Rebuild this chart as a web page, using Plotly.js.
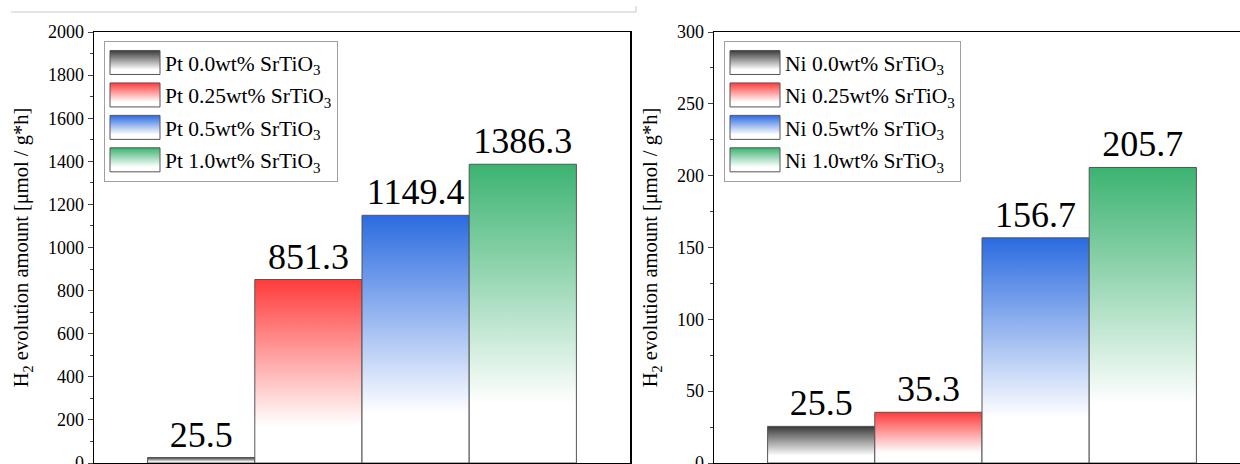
<!DOCTYPE html>
<html>
<head>
<meta charset="utf-8">
<script src="https://cdn.plot.ly/plotly-3.0.1.min.js"></script>
<style>
html,body{margin:0;padding:0;background:#fff;}
#chart{width:1240px;height:464px;}
</style>
</head>
<body>
<div id="chart"></div>
<script>
// ---- data ----
const categories = [0, 1, 2, 3];
const ptLabels = ['Pt 0.0wt% SrTiO<sub>3</sub>', 'Pt 0.25wt% SrTiO<sub>3</sub>', 'Pt 0.5wt% SrTiO<sub>3</sub>', 'Pt 1.0wt% SrTiO<sub>3</sub>'];
const ptValues = [25.5, 851.3, 1149.4, 1386.3];
const niLabels = ['Ni 0.0wt% SrTiO<sub>3</sub>', 'Ni 0.25wt% SrTiO<sub>3</sub>', 'Ni 0.5wt% SrTiO<sub>3</sub>', 'Ni 1.0wt% SrTiO<sub>3</sub>'];
const niValues = [25.5, 35.3, 156.7, 205.7];
const leftTicks = [0, 200, 400, 600, 800, 1000, 1200, 1400, 1600, 1800, 2000];
const rightTicks = [0, 50, 100, 150, 200, 250, 300];
const yTitle = 'H<sub>2</sub> evolution amount [μmol / g*h]';

// ---- style ----
const topColors = ['#3a3a3a', '#ff3b3b', '#2b6be0', '#3cb371'];
const gradIds = ['gradGray', 'gradRed', 'gradBlue', 'gradGreen'];
const FONT = 'Liberation Serif';

const W = 1240, H = 464;
const M = {l: 94, r: 0, t: 32, b: 1};
const pw = W - M.l - M.r, ph = H - M.t - M.b;
const px2x = p => (p - M.l) / pw;
const px2y = p => (H - M.b - p) / ph;

const leftDomain = [0, px2x(630)];
const rightDomain = [px2x(714), 1];
const unitPx = (630 - 94) / 5;
const rightMax = -1 + (W - 714) / unitPx;

function makeTraces(labels, values, xa, ya, lg, prefix) {
  return values.map((v, i) => ({
    type: 'bar',
    x: [categories[i]],
    y: [v],
    width: 1,
    name: labels[i],
    legend: lg,
    legendgroup: prefix + i,
    xaxis: xa, yaxis: ya,
    text: [v.toFixed(1)],
    textposition: 'outside',
    constraintext: 'none',
    textfont: {family: FONT, size: 36, color: '#000'},
    cliponaxis: false,
    marker: {color: topColors[i], line: {color: '#555', width: 1}},
    hoverinfo: 'skip'
  }));
}

const data = [].concat(
  makeTraces(ptLabels, ptValues, 'x', 'y', 'legend', 'p'),
  makeTraces(niLabels, niValues, 'x2', 'y2', 'legend2', 'n')
);

const axisLine = {showline: true, linecolor: '#000', linewidth: 1.5, showgrid: false, zeroline: false};

function yAxis(range, ticks, minorStep, mirror, anchor) {
  return Object.assign({}, axisLine, {
    domain: [0, 1], range: range, tickvals: ticks, ticks: 'outside', ticklen: 5, tickwidth: 1,
    minor: {dtick: minorStep, ticks: 'outside', ticklen: 3, tickwidth: 1}, mirror: mirror, anchor: anchor,
    ticklabeloverflow: 'allow',
    tickfont: {family: FONT, size: 18, color: '#000'},
    title: {text: yTitle, font: {family: FONT, size: 20.5, color: '#000'}, standoff: 13}
  });
}

const legendBase = {
  xanchor: 'left', yanchor: 'top',
  bgcolor: '#fff', bordercolor: '#a0a0a0', borderwidth: 1,
  font: {family: FONT, size: 21.5, color: '#000'},
  itemwidth: 50, tracegroupgap: 1.5, traceorder: 'grouped', itemclick: false, itemdoubleclick: false
};

const layout = {
  width: W, height: H,
  margin: M,
  paper_bgcolor: '#fff', plot_bgcolor: '#fff',
  barmode: 'overlay',
  showlegend: true,
  font: {family: FONT, color: '#000'},
  xaxis: Object.assign({}, axisLine, {domain: leftDomain, range: [-1, 4], mirror: true, showticklabels: false, ticks: '', anchor: 'y'}),
  yaxis: yAxis([0, 2000], leftTicks, 100, true, 'x'),
  xaxis2: Object.assign({}, axisLine, {domain: rightDomain, range: [-1, rightMax], mirror: true, showticklabels: false, ticks: '', anchor: 'y2'}),
  yaxis2: yAxis([0, 300], rightTicks, 25, false, 'x2'),
  legend: Object.assign({}, legendBase, {x: px2x(104), y: px2y(41)}),
  legend2: Object.assign({}, legendBase, {x: px2x(724), y: px2y(41)}),
  shapes: [
    {type: 'line', xref: 'paper', yref: 'paper', x0: px2x(11), x1: px2x(636), y0: px2y(12), y1: px2y(12), line: {color: '#c8c8c8', width: 1}},
    {type: 'line', xref: 'paper', yref: 'paper', x0: px2x(636), x1: px2x(636), y0: px2y(12), y1: px2y(6), line: {color: '#c8c8c8', width: 1}}
  ]
};

function hexToRgb(h) {
  const n = parseInt(h.slice(1), 16);
  return [(n >> 16) & 255, (n >> 8) & 255, n & 255];
}
const rgbKeys = topColors.map(c => hexToRgb(c).join(','));

function matchIndex(fill) {
  if (!fill) return -1;
  const m = fill.match(/\d+(\.\d+)?/g);
  if (!m) return -1;
  const key = m.slice(0, 3).map(Number).join(',');
  return rgbKeys.indexOf(key);
}

function applyGradients(gd) {
  const NS = 'http://www.w3.org/2000/svg';
  const svg = gd.querySelector('svg.main-svg');
  if (!svg) return;
  if (!svg.querySelector('#customGrads')) {
    const defs = document.createElementNS(NS, 'defs');
    defs.setAttribute('id', 'customGrads');
    topColors.forEach((c, i) => {
      const lg = document.createElementNS(NS, 'linearGradient');
      lg.setAttribute('id', gradIds[i]);
      lg.setAttribute('x1', '0'); lg.setAttribute('y1', '0');
      lg.setAttribute('x2', '0'); lg.setAttribute('y2', '1');
      [[0, c], [0.8, '#ffffff'], [1, '#ffffff']].forEach(([o, col]) => {
        const s = document.createElementNS(NS, 'stop');
        s.setAttribute('offset', o);
        s.setAttribute('stop-color', col);
        lg.appendChild(s);
      });
      defs.appendChild(lg);
    });
    svg.insertBefore(defs, svg.firstChild);
  }
  gd.querySelectorAll('.barlayer .point path').forEach(p => {
    const k = p.dataset.gk !== undefined ? +p.dataset.gk : matchIndex(p.style.fill);
    if (k >= 0) { p.dataset.gk = k; p.style.fill = 'url(#' + gradIds[k] + ')'; }
  });
  gd.querySelectorAll('.legendpoints path').forEach(p => {
    const k = p.dataset.gk !== undefined ? +p.dataset.gk : matchIndex(p.style.fill);
    if (k >= 0) {
      p.dataset.gk = k;
      p.style.fill = 'url(#' + gradIds[k] + ')';
      p.setAttribute('d', 'M-25,-12H25V12H-25Z');
      p.style.stroke = '#555';
      p.style.strokeWidth = '1px';
    }
  });
}

Plotly.newPlot('chart', data, layout, {staticPlot: true, displayModeBar: false}).then(gd => {
  applyGradients(gd);
  gd.on('plotly_afterplot', () => applyGradients(gd));
});
</script>
</body>
</html>
